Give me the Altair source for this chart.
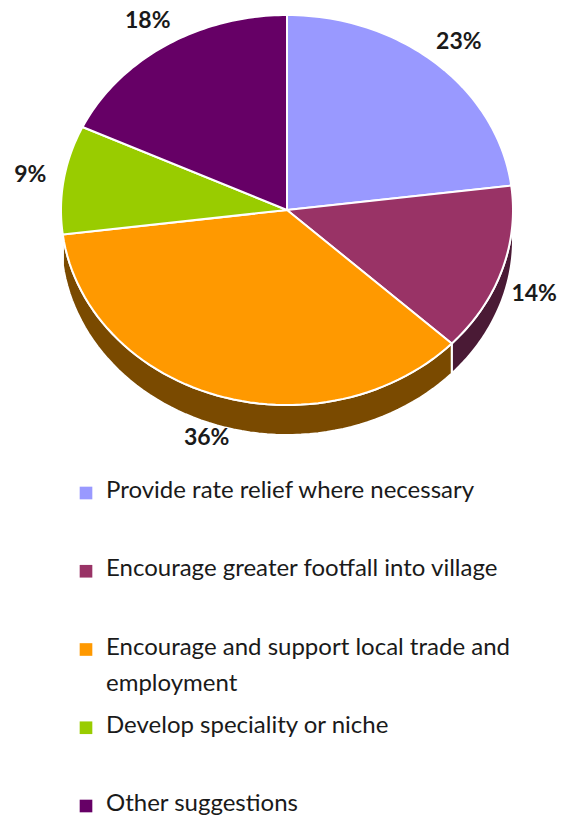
import altair as alt
import pandas as pd

cats = [
    "Provide rate relief where necessary",
    "Encourage greater footfall into village",
    "Encourage and support local trade and employment",
    "Develop speciality or niche",
    "Other suggestions",
]
legend_text = [
    "Provide rate relief where necessary",
    "Encourage greater footfall into village",
    "Encourage and support local trade and\nemployment",
    "Develop speciality or niche",
    "Other suggestions",
]
values = [23, 14, 36, 9, 18]

colors = ["#9999ff", "#993366", "#ff9900", "#99cc00", "#660066"]
dark_colors = ["#4d4d80", "#4a1a35", "#7a4a00", "#4d6600", "#330033"]

W, H = 566, 824
CX, CY, RX, RY, DEPTH = 287, 210, 226, 195, 30
N = 60
FONT = "Lato"

df = pd.DataFrame({"label": cats, "value": values, "idx": list(range(len(cats))),
                   "ltext": legend_text})

xs = alt.Scale(domain=[0, W], range=[0, W])
ys = alt.Scale(domain=[0, H], range=[0, H])

base = (
    alt.Chart(df)
    .transform_joinaggregate(total="sum(value)")
    .transform_window(cum="sum(value)", frame=[None, 0], sort=[alt.SortField("idx")])
    .transform_calculate(
        a0="2*PI*(datum.cum - datum.value)/datum.total",
        a1="2*PI*datum.cum/datum.total",
    )
)

# side walls (front half only)
side = (
    base.transform_calculate(
        s0="max(datum.a0, PI/2)", s1="min(datum.a1, 3*PI/2)"
    )
    .transform_filter("datum.s1 > datum.s0")
    .transform_calculate(seq=f"sequence(0, {2*N+2})")
    .transform_flatten(["seq"], as_=["i"])
    .transform_calculate(
        ang=f"datum.i <= {N} ? datum.s0 + (datum.s1-datum.s0)*datum.i/{N} : datum.s1 - (datum.s1-datum.s0)*(datum.i-{N+1})/{N}"
    )
    .transform_calculate(
        px=f"{CX} + {RX}*sin(datum.ang)",
        py=f"{CY} - {RY}*cos(datum.ang) + (datum.i > {N} ? {DEPTH} : 0)",
    )
    .mark_line(filled=True, interpolate="linear-closed", stroke="white", strokeWidth=2,
               strokeJoin="round")
    .encode(
        x=alt.X("px:Q", scale=xs, axis=None),
        y=alt.Y("py:Q", scale=ys, axis=None),
        color=alt.Color("label:N", scale=alt.Scale(domain=cats, range=dark_colors), legend=None),
        order=alt.Order("i:Q"),
    )
)

top = (
    base.transform_calculate(seq=f"sequence(0, {N+2})")
    .transform_flatten(["seq"], as_=["i"])
    .transform_calculate(ang=f"datum.a0 + (datum.a1-datum.a0)*(datum.i-1)/{N}")
    .transform_calculate(
        px=f"datum.i == 0 ? {CX} : {CX} + {RX}*sin(datum.ang)",
        py=f"datum.i == 0 ? {CY} : {CY} - {RY}*cos(datum.ang)",
    )
    .mark_line(filled=True, interpolate="linear-closed", stroke="white", strokeWidth=2,
               strokeJoin="round")
    .encode(
        x=alt.X("px:Q", scale=xs, axis=None),
        y=alt.Y("py:Q", scale=ys, axis=None),
        color=alt.Color("label:N", scale=alt.Scale(domain=cats, range=colors), legend=None),
        order=alt.Order("i:Q"),
    )
)

labels = (
    base.transform_calculate(mid="(datum.a0 + datum.a1)/2")
    .transform_calculate(
        lx=f"{CX} + {RX}*1.15*sin(datum.mid)",
        ly=f"{CY} - {RY}*1.15*cos(datum.mid) + (cos(datum.mid) < 0 ? 15 : 0)",
        txt="datum.value + '%'",
    )
    .mark_text(font=FONT, fontSize=23, fontWeight="bold", color="#1a1a1a",
               align="center", baseline="middle")
    .encode(
        x=alt.X("lx:Q", scale=xs, axis=None),
        y=alt.Y("ly:Q", scale=ys, axis=None),
        text="txt:N",
    )
)

ly = alt.Scale(domain=cats, range=[493, 806], padding=0)

leg_sq = (
    alt.Chart(df)
    .mark_square(size=160, opacity=1)
    .encode(
        x=alt.value(86),
        y=alt.Y("label:N", scale=ly, axis=None),
        color=alt.Color("label:N", scale=alt.Scale(domain=cats, range=colors), legend=None),
    )
)
leg_tx = (
    alt.Chart(df)
    .mark_text(font=FONT, fontSize=24, color="#1a1a1a", align="left", baseline="top",
               dy=-14, lineBreak="\n", lineHeight=36)
    .encode(
        x=alt.value(106),
        y=alt.Y("label:N", scale=ly, axis=None),
        text="ltext:N",
    )
)

pie = alt.layer(side, top, labels).resolve_scale(color="independent")
leg = alt.layer(leg_sq, leg_tx)

chart = (
    alt.layer(pie, leg)
    .resolve_scale(x="independent", y="independent", color="independent")
    .properties(width=W, height=H, padding=0, autosize=alt.AutoSizeParams(type="none"))
    .configure_view(stroke=None)
)

chart.save("out.html", embed_options={"renderer": "svg", "actions": False})
